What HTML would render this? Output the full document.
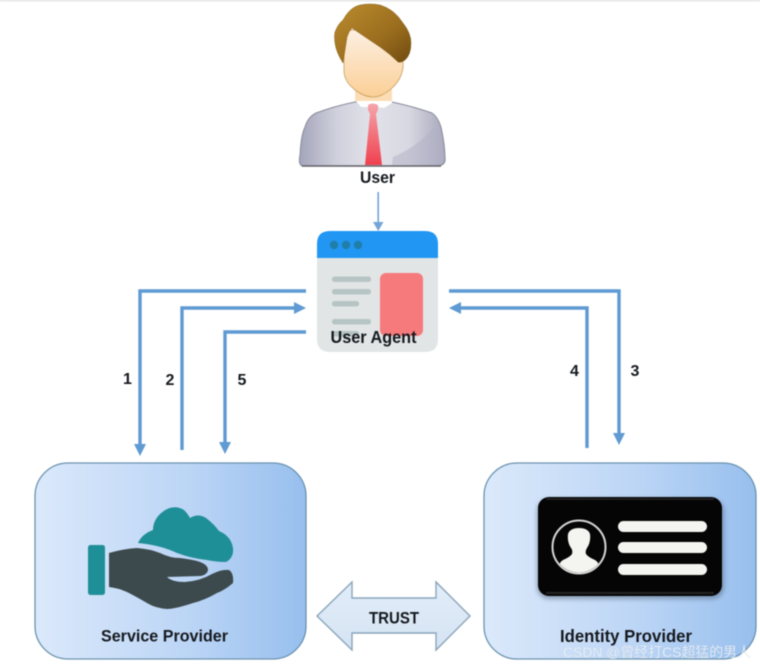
<!DOCTYPE html>
<html><head><meta charset="utf-8"><style>
html,body{margin:0;padding:0;background:#fff;width:760px;height:666px;overflow:hidden}
svg{display:block;filter:blur(.5px)}
text{font-family:"Liberation Sans","Noto Sans CJK SC",sans-serif}
.l{font-weight:700;fill:#15191e}
</style></head><body>
<svg width="760" height="666" viewBox="0 0 760 666" xmlns="http://www.w3.org/2000/svg">
<defs>
<linearGradient id="box" x1="0" y1="0" x2="1" y2="0"><stop offset="0" stop-color="#dbe9fb"/><stop offset=".55" stop-color="#bdd6f6"/><stop offset="1" stop-color="#97bfee"/></linearGradient>
<linearGradient id="suit" x1="0" y1="0" x2="1" y2="0"><stop offset="0" stop-color="#a3a4ba"/><stop offset=".25" stop-color="#cfd0dc"/><stop offset=".5" stop-color="#e2e2ea"/><stop offset=".75" stop-color="#d8d8e2"/><stop offset="1" stop-color="#a6a7bb"/></linearGradient>
<linearGradient id="hair" x1="0" y1="0" x2="1" y2="1"><stop offset="0" stop-color="#bb8c2e"/><stop offset=".6" stop-color="#9a6d1e"/><stop offset="1" stop-color="#6f4a10"/></linearGradient>
<linearGradient id="face" x1="0" y1="0" x2="0" y2="1"><stop offset="0" stop-color="#fdf0e2"/><stop offset="1" stop-color="#fbcf96"/></linearGradient>
<linearGradient id="tie" x1="0" y1="0" x2="0" y2="1"><stop offset="0" stop-color="#f5a5aa"/><stop offset="1" stop-color="#f0404f"/></linearGradient>
<linearGradient id="tr" x1="0" y1="0" x2="0" y2="1"><stop offset="0" stop-color="#e2edf9"/><stop offset="1" stop-color="#d5e3f3"/></linearGradient>
<clipPath id="cc"><circle cx="579" cy="547" r="25.500"/></clipPath>
</defs>
<rect width="760" height="1.500" fill="#e4e4e4"/>

<!-- person -->
<path d="M302 166 Q298 164 300 155 Q301 135 305 127 Q308 117 316 113 Q335 106 355 102 L392 102 Q415 107 432 113 Q438 117 441 127 Q445 145 445 158 Q446 165 438 166Z" fill="url(#suit)" stroke="#8b8b9b" stroke-width="1"/>
<path d="M393 157 Q420 146 437 123 Q442 135 444 158 Q444 164 438 165 L392 165Z" fill="#b2b3c6" opacity=".55"/>
<path d="M302 166 H441" stroke="#5f5f66" stroke-width="1.500" fill="none"/>
<path d="M355 100 L392 100 L392 103 L384 108 L378 107 L367 107 L361 107Z" fill="#fff"/>
<rect x="355" y="88" width="37" height="13" fill="#fbdcb4"/>
<path d="M368 105 Q372 102 378 105 L378 110 L376 114 L382 165 L365 165 L370 114 L368 110Z" fill="url(#tie)"/>
<path d="M344 30 L344 72 Q345 82 354 89 Q364 97 373 97 Q382 97 392 88 Q401 80 403 68 L404 30Z" fill="url(#face)" stroke="#c9a060" stroke-width=".8"/>
<path d="M343 63 Q336 52 335 43 Q334 36 335 32 Q338 24 343 20 Q350 7 360 5 Q370 3 380 5 Q394 9 403 23 Q411 33 411 43 Q411 55 405 60 Q401 63 398 62 Q390 54 380 47 Q365 37 352 28 Q349 31 347 37 Q345 50 343 63Z" fill="url(#hair)" stroke="#8a6420" stroke-width=".5"/>
<text x="377.500" y="183" class="l" text-anchor="middle" textLength="35" lengthAdjust="spacingAndGlyphs" font-size="17">User</text>

<!-- user arrow -->
<g fill="#73a5d6"><rect x="377.400" y="192" width="1.600" height="30"/><path d="M373 222 L383.500 222 L378.200 231Z"/></g>

<!-- browser -->
<path d="M317 258 V244 Q317 231 330 231 H425 Q438 231 438 244 V258Z" fill="#2196f3"/>
<path d="M317 258 H438 V339 Q438 352 425 352 H330 Q317 352 317 339Z" fill="#e1e5e6"/>
<circle cx="334" cy="245" r="4.200" fill="#1f7fa8"/><circle cx="346" cy="245" r="4.200" fill="#1f7fa8"/><circle cx="358" cy="245" r="4.200" fill="#1f7fa8"/>
<g fill="#b7c4c4"><rect x="332" y="276.500" width="39" height="5.500" rx="2.500"/><rect x="332" y="289" width="39" height="5.500" rx="2.500"/><rect x="332" y="301" width="27" height="5.500" rx="2.500"/><rect x="332" y="319" width="39" height="5.500" rx="2.500"/><rect x="332" y="331" width="27" height="5.500" rx="2.500"/></g>
<rect x="380" y="273" width="43" height="63" rx="6" fill="#f67a7c"/>
<text x="373.500" y="343" class="l" text-anchor="middle" textLength="86" lengthAdjust="spacingAndGlyphs" font-size="17.500">User Agent</text>

<!-- connectors -->
<g fill="none" stroke="#5f9ad3" stroke-width="3.400">
<path d="M306 291 H140 V445"/>
<path d="M182 450 V308 H294"/>
<path d="M306 332 H225 V443"/>
<path d="M449 291 H619 V434"/>
<path d="M587 448 V308 H459"/>
</g>
<g fill="#5f9ad3">
<path d="M134 444 H146 L140 456Z"/>
<path d="M219 442 H231 L225 454Z"/>
<path d="M613 433 H625 L619 445Z"/>
<path d="M294 302 L306 308 L294 314Z"/>
<path d="M461 302 L449 308 L461 314Z"/>
</g>
<text x="127.500" y="384" class="l" text-anchor="middle" font-size="16">1</text>
<text x="170" y="385" class="l" text-anchor="middle" font-size="16">2</text>
<text x="242" y="385" class="l" text-anchor="middle" font-size="16">5</text>
<text x="574.500" y="376" class="l" text-anchor="middle" font-size="16">4</text>
<text x="635" y="376" class="l" text-anchor="middle" font-size="16">3</text>

<!-- service provider -->
<rect x="35" y="463" width="271" height="196" rx="33" fill="url(#box)" stroke="#6b93b0" stroke-width="1.300"/>
<rect x="88" y="545" width="17" height="50" rx="2.500" fill="#1f8f97"/>
<path d="M138 543 Q142 534 153 530 Q153 521 160 514 Q172 503 184 510 Q188 514 190 518 Q198 513 206 518 Q214 524 219 531 Q231 536 233 548 Q234 558 226 562 Q216 562 207 560 Q190 558 177 553 Q160 545 138 543Z" fill="#1f8f97"/>
<path d="M109 553 Q122 549 137 548 Q150 549 160 553 Q170 558 180 558 Q195 560 200 562 Q208 565 208 570 Q207 575 200 576 L167 577 Q172 582 185 582 Q200 581 212 574 Q222 569 229 570 Q234 573 233 583 Q225 590 217 593 Q205 600 193 603 Q175 609 167 609 Q155 608 147 603 Q135 596 127 592 Q118 588 109 587Z" fill="#3c4a4d"/>
<text x="164.500" y="641.500" class="l" text-anchor="middle" textLength="127" lengthAdjust="spacingAndGlyphs" font-size="17">Service Provider</text>

<!-- identity provider -->
<rect x="484" y="463" width="272" height="196" rx="33" fill="url(#box)" stroke="#6b93b0" stroke-width="1.300"/>
<rect x="537" y="499" width="187" height="100" rx="12" fill="#4a5c70" opacity=".5" style="filter:blur(2.500px)"/>
<rect x="538" y="497" width="184" height="99" rx="11" fill="#050505"/>
<path d="M546 593 H714" stroke="#333" stroke-width="2" opacity=".7"/>
<path d="M546 499 H714" stroke="#2a2a2a" stroke-width="2" opacity=".7"/>
<circle cx="579" cy="547" r="26.500" fill="none" stroke="#d4d4d4" stroke-width="2"/>
<path clip-path="url(#cc)" d="M556 575 Q558 563 563 560 Q570 557 572 554 Q573 550 571 548 Q567 542 568 534 Q570 528 579 528 Q588 528 590 534 Q591 542 587 548 Q585 551 586 554 Q588 557 595 560 Q600 563 602 575Z" fill="#f4f4f0"/>
<g fill="#f4f4f0"><rect x="618" y="521" width="89" height="11" rx="5.500"/><rect x="618" y="542" width="89" height="11" rx="5.500"/><rect x="618" y="564" width="89" height="11" rx="5.500"/></g>
<text x="626" y="642" class="l" text-anchor="middle" textLength="132" lengthAdjust="spacingAndGlyphs" font-size="17.500">Identity Provider</text>

<!-- trust -->
<path d="M317 616 L352 582 V598 H436 V582 L470 616 L436 650 V633 H352 V650Z" fill="url(#tr)" stroke="#8aa6ba" stroke-width="1.400"/>
<text x="394" y="623.500" class="l" text-anchor="middle" textLength="50" lengthAdjust="spacingAndGlyphs" font-size="17">TRUST</text>

<!-- watermark -->
<text x="563" y="657" font-size="14" fill="#f2f6fb" fill-opacity=".9" stroke="#8ea2b6" stroke-opacity=".4" stroke-width=".2" textLength="188" lengthAdjust="spacingAndGlyphs">CSDN @曾经打CS超猛的男人</text>
</svg>
</body></html>
